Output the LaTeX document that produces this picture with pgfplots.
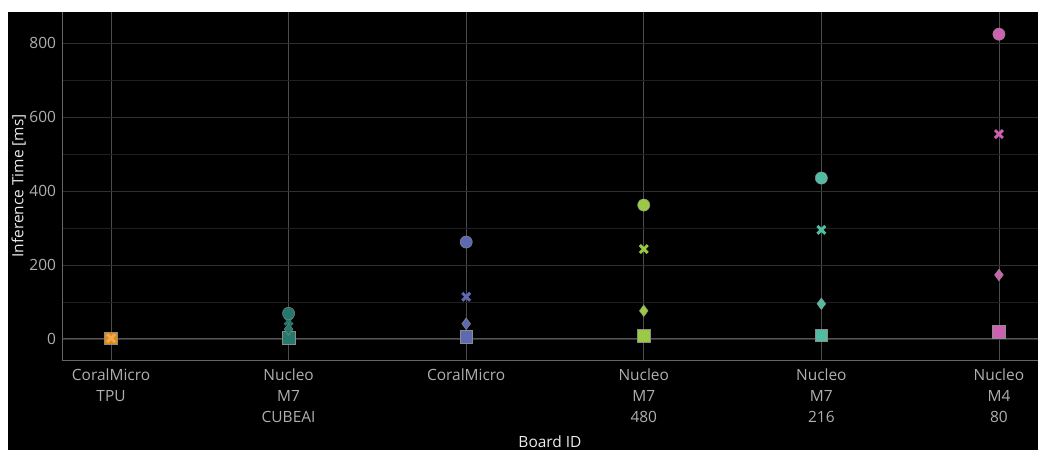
\documentclass[border=0pt]{standalone}
\usepackage{fontspec}
\setmainfont{Open Sans}
\usepackage{pgfplots}
\usepackage{pgfplotstable}
\pgfplotsset{compat=1.18}
\definecolor{cA}{RGB}{229,134,6}
\definecolor{cB}{RGB}{36,121,108}
\definecolor{cC}{RGB}{93,105,177}
\definecolor{cD}{RGB}{153,201,69}
\definecolor{cE}{RGB}{82,188,163}
\definecolor{cF}{RGB}{204,97,176}
\definecolor{tickgray}{RGB}{175,175,175}
\definecolor{titlecol}{RGB}{235,235,235}
\definecolor{outl}{RGB}{140,140,140}
\pgfplotstableread{
x y c
0 2 a
1 4 b
2 5 c
3 9 d
4 10 e
5 19 f
}\sqdata
\pgfplotstableread{
x y c
1 26 b
2 41 c
3 76 d
4 95 e
5 173 f
}\didata
\pgfplotstableread{
x y c
0 2 xa
1 49 xb
2 114 xc
3 243 xd
4 295 xe
5 554 xf
}\crdata
\pgfplotstableread{
x y c
1 69 b
2 262 c
3 362 d
4 435 e
5 824 f
}\cidata
\begin{document}
\begin{tikzpicture}
\fill[white] (0pt,0pt) rectangle (778.5pt,337.5pt);
\fill[black] (6pt,0pt) rectangle (778.5pt,328.5pt);
\begin{axis}[
  at={(46.5pt,67.5pt)}, anchor=south west,
  scale only axis, width=732pt, height=261pt,
  xmin=-0.276, xmax=5.22, ymin=-57, ymax=884,
  axis x line=bottom, axis y line=left,
  axis line style={draw=white!40!black, line width=0.6pt, -},
  major tick length=0pt, minor tick length=0pt,
  xtick={0,1,2,3,4,5},
  xticklabels={{CoralMicro\\TPU},{Nucleo\\M7\\CUBEAI},{CoralMicro},{Nucleo\\M7\\480},{Nucleo\\M7\\216},{Nucleo\\M4\\80}},
  xticklabel style={align=center, anchor=north, text=tickgray, font=\fontsize{11.6}{15.75}\selectfont, yshift=-3pt},
  ytick={0,200,400,600,800},
  minor ytick={100,300,500,700},
  yticklabel style={text=tickgray, font=\fontsize{11.6}{13}\selectfont, xshift=-1pt},
  /pgf/number format/assume math mode=true,
  xmajorgrids, ymajorgrids, yminorgrids,
  x grid style={draw=white!30!black, line width=0.6pt},
  y grid style={draw=white!19!black, line width=0.6pt},
  minor y grid style={draw=white!12!black, line width=0.6pt},
  xlabel={Board ID}, ylabel={Inference Time [ms]},
  xlabel style={at={(axis description cs:0.5,0)}, anchor=center, yshift=-61pt, text=titlecol, font=\fontsize{11.6}{13}\selectfont},
  ylabel style={at={(axis description cs:-0.0445,0.5)}, anchor=center, text=titlecol, font=\fontsize{11.6}{13}\selectfont},
  scatter/classes={a={fill=cA}, b={fill=cB}, c={fill=cC}, d={fill=cD}, e={fill=cE}, f={fill=cF},
    xa={draw=cA!70!white}, xb={draw=cB}, xc={draw=cC}, xd={draw=cD}, xe={draw=cE}, xf={draw=cF}},
]
\draw[white!33!black, line width=0.8pt] (axis cs:-0.276,0) -- (axis cs:5.22,0);
\addplot[scatter, only marks, mark=square*, mark size=4.8pt, mark options={draw=outl, line width=0.4pt}, scatter src=explicit symbolic] table[x=x,y=y,meta=c]{\sqdata};
\addplot[scatter, only marks, mark=diamond*, mark size=4.4pt, mark options={draw=outl, line width=0.3pt}, scatter src=explicit symbolic] table[x=x,y=y,meta=c]{\didata};
\addplot[scatter, only marks, mark=x, mark size=4.2pt, line width=2.2pt, scatter src=explicit symbolic] table[x=x,y=y,meta=c]{\crdata};
\addplot[scatter, only marks, mark=*, mark size=4.6pt, mark options={draw=outl, line width=0.3pt}, scatter src=explicit symbolic] table[x=x,y=y,meta=c]{\cidata};
\end{axis}
\pgfresetboundingbox
\useasboundingbox (0pt,0pt) rectangle (778.5pt,337.5pt);
\end{tikzpicture}
\end{document}
